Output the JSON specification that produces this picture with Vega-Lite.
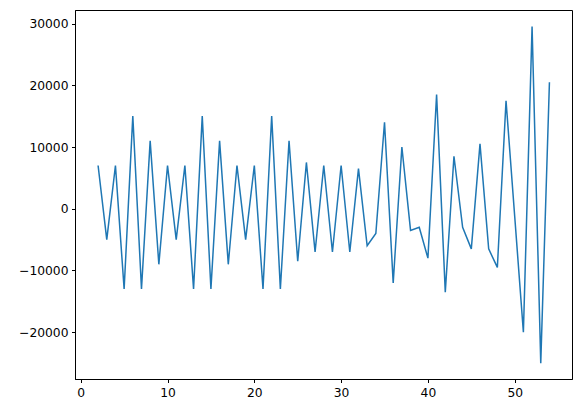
{
  "$schema": "https://vega.github.io/schema/vega-lite/v6.json",
  "width": 497,
  "height": 369,
  "autosize": {"type": "none"},
  "padding": {"left": 75, "top": 10, "right": 9, "bottom": 34},
  "background": "white",
  "config": {
    "view": {"stroke": "black", "strokeWidth": 1},
    "axis": {
      "grid": false,
      "domainColor": "black",
      "domainWidth": 1,
      "tickColor": "black",
      "tickSize": 3.5,
      "tickWidth": 1,
      "labelFont": "DejaVu Sans",
      "labelFontSize": 12.3,
      "labelColor": "black",
      "labelPadding": 3.5,
      "title": null
    }
  },
  "data": {
    "values": [
      {"x": 2, "y": 7000}, {"x": 3, "y": -5000}, {"x": 4, "y": 7000},
      {"x": 5, "y": -13000}, {"x": 6, "y": 15000}, {"x": 7, "y": -13000},
      {"x": 8, "y": 11000}, {"x": 9, "y": -9000}, {"x": 10, "y": 7000},
      {"x": 11, "y": -5000}, {"x": 12, "y": 7000}, {"x": 13, "y": -13000},
      {"x": 14, "y": 15000}, {"x": 15, "y": -13000}, {"x": 16, "y": 11000},
      {"x": 17, "y": -9000}, {"x": 18, "y": 7000}, {"x": 19, "y": -5000},
      {"x": 20, "y": 7000}, {"x": 21, "y": -13000}, {"x": 22, "y": 15000},
      {"x": 23, "y": -13000}, {"x": 24, "y": 11000}, {"x": 25, "y": -8500},
      {"x": 26, "y": 7500}, {"x": 27, "y": -7000}, {"x": 28, "y": 7000},
      {"x": 29, "y": -7000}, {"x": 30, "y": 7000}, {"x": 31, "y": -7000},
      {"x": 32, "y": 6500}, {"x": 33, "y": -6000}, {"x": 34, "y": -4000},
      {"x": 35, "y": 14000}, {"x": 36, "y": -12000}, {"x": 37, "y": 10000},
      {"x": 38, "y": -3500}, {"x": 39, "y": -3000}, {"x": 40, "y": -8000},
      {"x": 41, "y": 18500}, {"x": 42, "y": -13500}, {"x": 43, "y": 8500},
      {"x": 44, "y": -3000}, {"x": 45, "y": -6500}, {"x": 46, "y": 10500},
      {"x": 47, "y": -6500}, {"x": 48, "y": -9500}, {"x": 49, "y": 17500},
      {"x": 50, "y": -1250}, {"x": 51, "y": -20000}, {"x": 52, "y": 29500},
      {"x": 53, "y": -25000}, {"x": 54, "y": 20500}
    ]
  },
  "mark": {"type": "line", "color": "#1f77b4", "strokeWidth": 1.5},
  "encoding": {
    "x": {
      "field": "x",
      "type": "quantitative",
      "scale": {"domain": [-0.66, 56.6], "nice": false, "zero": false},
      "axis": {"values": [0, 10, 20, 30, 40, 50], "format": "d"}
    },
    "y": {
      "field": "y",
      "type": "quantitative",
      "scale": {"domain": [-27574, 32190], "nice": false, "zero": false},
      "axis": {"values": [-20000, -10000, 0, 10000, 20000, 30000], "format": "d"}
    }
  }
}
